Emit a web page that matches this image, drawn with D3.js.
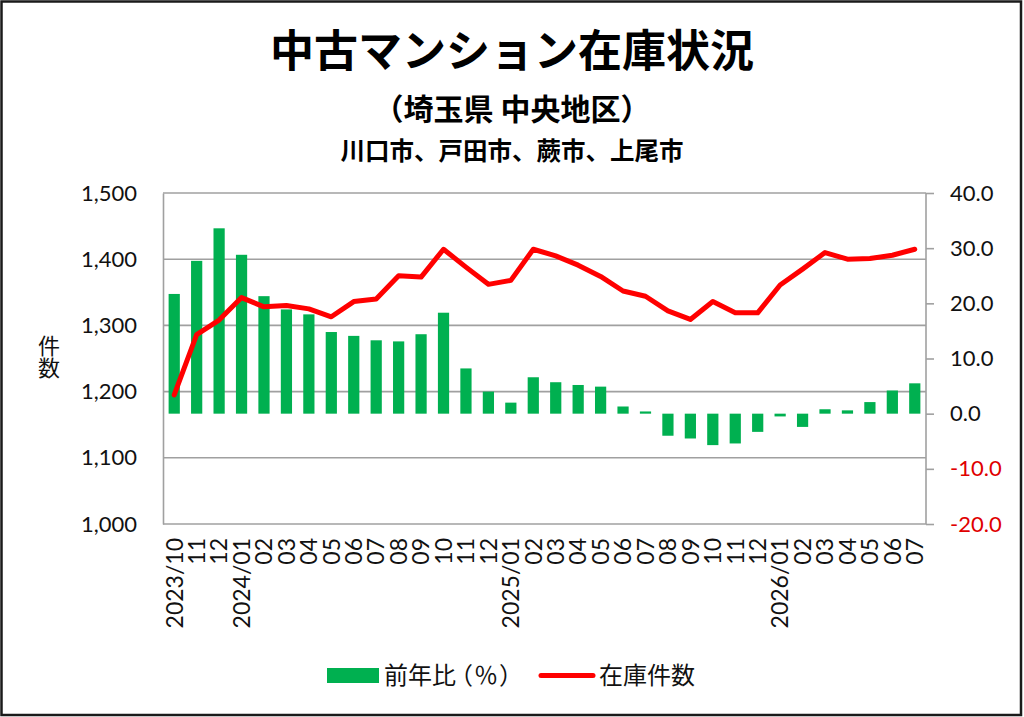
<!DOCTYPE html>
<html><head><meta charset="utf-8">
<script src="https://cdn.jsdelivr.net/npm/d3@7"></script>
<style>
html,body{margin:0;padding:0;background:#fff;}
svg{display:block;font-family:"Lato","Noto Sans CJK JP",sans-serif;}
.halt{font-feature-settings:"halt" 1;}
</style></head>
<body>
<svg id="c" width="1024" height="717"></svg>
<script>
const categories = ["2023/10","11","12","2024/01","02","03","04","05","06","07","08","09","10","11","12",
  "2025/01","02","03","04","05","06","07","08","09","10","11","12","2026/01","02","03","04","05","06","07"];
const yoyValues = [21.7,27.7,33.6,28.8,21.3,18.9,18.0,14.8,14.1,13.3,13.1,14.4,18.3,8.2,4.0,
  2.0,6.6,5.7,5.2,4.9,1.3,0.4,-4.0,-4.5,-5.7,-5.4,-3.3,-0.5,-2.4,0.8,0.6,2.1,4.2,5.5];
const stockValues = [1195,1286,1308,1342,1328,1330,1325,1313,1336,1340,1375,1373,1415,1388,1362,
  1368,1415,1405,1391,1374,1352,1344,1322,1309,1336,1319,1319,1361,1385,1410,1400,1401,1406,1415];
const leftTicks = [1000,1100,1200,1300,1400,1500];
const rightTicks = [-20,-10,0,10,20,30,40];
const titleLines = ["中古マンション在庫状況","（埼玉県 中央地区）","川口市、戸田市、蕨市、上尾市"];
const yAxisTitle = "件数";
const legendLabels = ["前年比","（％）","在庫件数"];

const svg = d3.select("#c");
const L = 163, R = 926, T = 193, B = 524;
const GREEN = "#00b050", RED = "#ff0000", GRID = "#a0a0a0";

svg.append("rect").attr("x",1.5).attr("y",1.5).attr("width",1019.5).attr("height",713.5)
  .attr("fill","#fff").attr("stroke","#1a1a1a").attr("stroke-width",2.5);

const x = d3.scaleBand().domain(d3.range(categories.length)).range([L,R]).paddingInner(0.5).paddingOuter(0.25);
const yL = d3.scaleLinear().domain([1000,1500]).range([B,T]);
const yR = d3.scaleLinear().domain([-20,40]).range([B,T]);

// gridlines
svg.append("g").selectAll("line").data(leftTicks).join("line")
  .attr("x1",L).attr("x2",R).attr("y1",d=>yL(d)).attr("y2",d=>yL(d))
  .attr("stroke",GRID).attr("stroke-width",1.6);

// left axis
const gL = svg.append("g").attr("transform",`translate(${L},0)`)
  .call(d3.axisLeft(yL).tickValues(leftTicks).tickSize(0).tickPadding(26).tickFormat(d3.format(",")));
gL.select(".domain").attr("stroke",GRID).attr("stroke-width",1.6);
gL.selectAll("text").attr("font-size",22).attr("fill","#111").attr("font-family","Lato");

// right axis
const gR = svg.append("g").attr("transform",`translate(${R},0)`)
  .call(d3.axisRight(yR).tickValues(rightTicks).tickSize(8).tickPadding(16).tickFormat(d=>d.toFixed(1)));
gR.select(".domain").attr("stroke",GRID).attr("stroke-width",1.6).attr("d",`M0,${T}V${B}`);
gR.selectAll(".tick line").attr("stroke",GRID).attr("stroke-width",1.6);
gR.selectAll("text").attr("font-size",22).attr("font-family","Lato").attr("fill",d=>d<0?"#e00000":"#111");

// bars
svg.append("g").selectAll("rect").data(yoyValues).join("rect")
  .attr("x",(d,i)=>x(i)).attr("width",x.bandwidth())
  .attr("y",d=>yR(Math.max(0,d))).attr("height",d=>Math.abs(yR(d)-yR(0)))
  .attr("fill",GREEN);

// line
const line = d3.line().x((d,i)=>x(i)+x.bandwidth()/2).y(d=>yL(d));
svg.append("path").datum(stockValues).attr("d",line).attr("fill","none")
  .attr("stroke",RED).attr("stroke-width",5).attr("stroke-linejoin","round").attr("stroke-linecap","round");

// x labels
svg.append("g").selectAll("text").data(categories).join("text")
  .attr("transform",(d,i)=>`translate(${x(i)+x.bandwidth()/2},538) rotate(-90)`)
  .attr("text-anchor","end").attr("dy","0.36em")
  .attr("font-size",23).attr("font-family","Lato").attr("fill","#111").text(d=>d);

// titles
const titleSizes = [44,30,24.5];
const titleY = [67,120,160];
svg.append("g").selectAll("text").data(titleLines).join("text")
  .attr("x",512).attr("y",(d,i)=>titleY[i]).attr("text-anchor","middle")
  .attr("font-size",(d,i)=>titleSizes[i]).attr("font-weight","bold")
  .attr("font-family","Noto Sans CJK JP").attr("fill","#000").text(d=>d);

// y axis title (vertical)
svg.append("text").attr("x",49).attr("y",335)
  .style("writing-mode","vertical-rl").style("text-orientation","upright")
  .attr("font-size",22).attr("font-family","Noto Sans CJK JP").attr("fill","#111").text(yAxisTitle);

// legend
const lg = svg.append("g");
lg.append("rect").attr("x",327).attr("y",668).attr("width",52).attr("height",15).attr("fill",GREEN);
lg.append("line").attr("x1",541).attr("x2",593).attr("y1",675.5).attr("y2",675.5)
  .attr("stroke",RED).attr("stroke-width",5).attr("stroke-linecap","round");
const t1 = lg.append("text").attr("x",384).attr("y",683.5)
  .attr("font-size",24).attr("font-family","Noto Sans CJK JP").attr("fill","#111");
t1.append("tspan").text(legendLabels[0]);
t1.append("tspan").attr("class","halt").attr("dx",5).attr("letter-spacing",1).text(legendLabels[1]);
lg.append("text").attr("x",599).attr("y",683.5)
  .attr("font-size",24).attr("font-family","Noto Sans CJK JP").attr("fill","#111").text(legendLabels[2]);
</script>
</body></html>
